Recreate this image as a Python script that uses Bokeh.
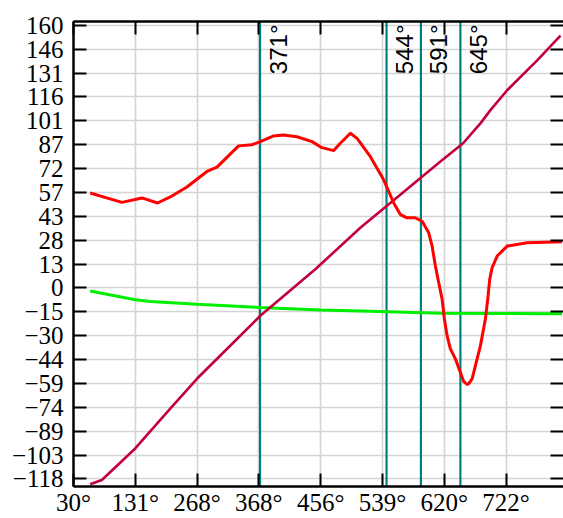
import numpy as np
from bokeh.plotting import figure
from bokeh.models import (LinearAxis, FixedTicker, Range1d, CustomJSTickFormatter,
                          CustomLabelingPolicy)
from bokeh.embed import file_html
from bokeh.resources import INLINE
from bokeh.core.properties import value

# ---------------- data ----------------
red_x = [138.7, 182.1, 209.5, 230.8, 248.2, 271.0, 298.4, 312.1, 341.7, 360.0,
         371.4, 389.6, 403.2, 421.6, 442.1, 455.8, 471.7, 480.8, 494.5, 503.7,
         521.9, 540.1, 553.8, 562.9, 572.1, 583.5, 592.6, 601.7, 606.3, 610.8,
         615.3, 620.0, 623.1, 626.8, 631.3, 638.2, 647.4, 649.5, 654.2, 656.4,
         661.0, 672.4, 679.2, 682.4, 685.1, 688.4, 695.3, 708.9, 736.3, 784.0]
red_y = [57.2, 51.5, 54.2, 51.1, 54.8, 60.9, 70.4, 73.1, 86.1, 86.8,
         88.7, 92.2, 92.8, 91.7, 88.7, 85.0, 83.2, 87.7, 93.8, 90.7,
         79.5, 65.3, 51.1, 44.0, 42.0, 42.0, 39.9, 32.8, 24.7, 12.5,
         2.4, -7.8, -20.0, -30.2, -38.3, -44.4, -55.6, -58.2, -60.1, -59.6,
         -56.6, -36.3, -20.0, -7.8, 4.4, 11.5, 18.6, 24.7, 26.7, 27.4]

green_x = [138.7, 200.3, 220.8, 284.7, 371.4, 453.5, 521.9, 617.7, 784.0]
green_y = [-2.8, -8.2, -9.2, -10.9, -12.9, -14.5, -15.3, -16.4, -16.7]

purple_x = [138.7, 154.7, 200.3, 248.2, 284.7, 371.4, 446.6, 508.2, 617.7,
            648.7, 672.4, 686.1, 708.9, 750.0, 781.9]
purple_y = [-121.2, -118.6, -99.3, -74.9, -56.6, -18.0, 10.5, 35.9, 76.5,
            87.7, 99.9, 108.0, 120.2, 138.5, 153.7]

vline_deg = [371, 544, 591, 645]

x_tick_labels = [30, 131, 268, 368, 456, 539, 620, 722]
y_tick_labels = [-118, -103, -89, -74, -59, -44, -30, -15, 0, 13, 28, 43,
                 57, 72, 87, 101, 116, 131, 146, 160]

# ---------------- scales ----------------
X_START, X_END = 115.9, 786.0
Y_START, Y_END = -122.6, 162.3
X_TICK_STEP = 84.5
Y_TICK_STEP = (y_tick_labels[-1] - y_tick_labels[0]) / (len(y_tick_labels) - 1)

x_ticks = [X_START + i * X_TICK_STEP for i in range(len(x_tick_labels))]
y_ticks = [y_tick_labels[0] + i * Y_TICK_STEP for i in range(len(y_tick_labels))]

x_label_text = [f"{v}\u00b0" for v in x_tick_labels]
y_label_text = [str(v).replace("-", "\u2212") for v in y_tick_labels]

p = figure(width=563, height=518, output_backend="svg", toolbar_location=None,
           x_range=Range1d(X_START, X_END), y_range=Range1d(Y_START, Y_END),
           min_border_left=73, min_border_right=0, min_border_top=21,
           min_border_bottom=29)
p.outline_line_color = None
p.background_fill_color = "white"
p.border_fill_color = "white"

xticker = FixedTicker(ticks=x_ticks)
yticker = FixedTicker(ticks=y_ticks)

xfmt = CustomJSTickFormatter(args=dict(labels=x_label_text, start=X_START, step=X_TICK_STEP),
                             code="return labels[Math.round((tick - start) / step)];")
yfmt = CustomJSTickFormatter(args=dict(labels=y_label_text, start=y_tick_labels[0], step=Y_TICK_STEP),
                             code="return labels[Math.round((tick - start) / step)];")

no_labels = CustomLabelingPolicy(code="""
    const all = [...indices]
    for (const i of all) { indices.unset(i) }
    return indices
""")

LABEL_FONT = "Liberation Serif"


def style_axis(ax, show_labels=True, show_line=True):
    ax.major_tick_in = 13
    ax.major_tick_out = 0
    ax.minor_tick_line_color = None
    ax.major_tick_line_width = 2
    ax.major_tick_line_color = "black"
    if show_line:
        ax.axis_line_width = 2.5
        ax.axis_line_color = "black"
    else:
        ax.axis_line_color = None
    if show_labels:
        ax.major_label_text_font = LABEL_FONT
        ax.major_label_text_font_size = "25px"
        ax.major_label_text_color = "black"
    else:
        ax.major_label_policy = no_labels
        ax.major_label_text_font_size = "0px"
        ax.major_label_standoff = 0


xa = p.xaxis[0]
xa.ticker = xticker
xa.formatter = xfmt
style_axis(xa)
xa.major_label_standoff = 2

ya = p.yaxis[0]
ya.ticker = yticker
ya.formatter = yfmt
style_axis(ya)
ya.major_label_standoff = 10

top_ax = LinearAxis(ticker=xticker, formatter=xfmt)
style_axis(top_ax, show_labels=False)
p.add_layout(top_ax, "above")

right_ax = LinearAxis(ticker=yticker, formatter=yfmt)
style_axis(right_ax, show_labels=False, show_line=False)
p.add_layout(right_ax, "right")

p.xgrid.ticker = xticker
p.ygrid.ticker = yticker
for g in (p.xgrid[0], p.ygrid[0]):
    g.grid_line_color = "#d4d4d4"
    g.grid_line_width = 1.6

# vertical reference lines
p.segment(x0=vline_deg, x1=vline_deg, y0=[Y_START] * len(vline_deg),
          y1=[Y_END] * len(vline_deg), line_color="#008080", line_width=2.2)

# curves
p.line(green_x, green_y, line_color="#00ee00", line_width=3)
p.line(purple_x, purple_y, line_color="#c4003a", line_width=2.6)
p.line(red_x, red_y, line_color="#ff0000", line_width=3, line_join="round")

# rotated labels for the vertical lines
p.text(x=vline_deg, y=[Y_END] * len(vline_deg),
       text=[f"{v}\u00b0" for v in vline_deg],
       angle=np.pi / 2, text_align="right", text_baseline="alphabetic",
       x_offset=18, y_offset=3,
       text_font=value("Liberation Sans"), text_font_size="24px",
       text_color="black")

open("out.html", "w").write(file_html(p, INLINE))
